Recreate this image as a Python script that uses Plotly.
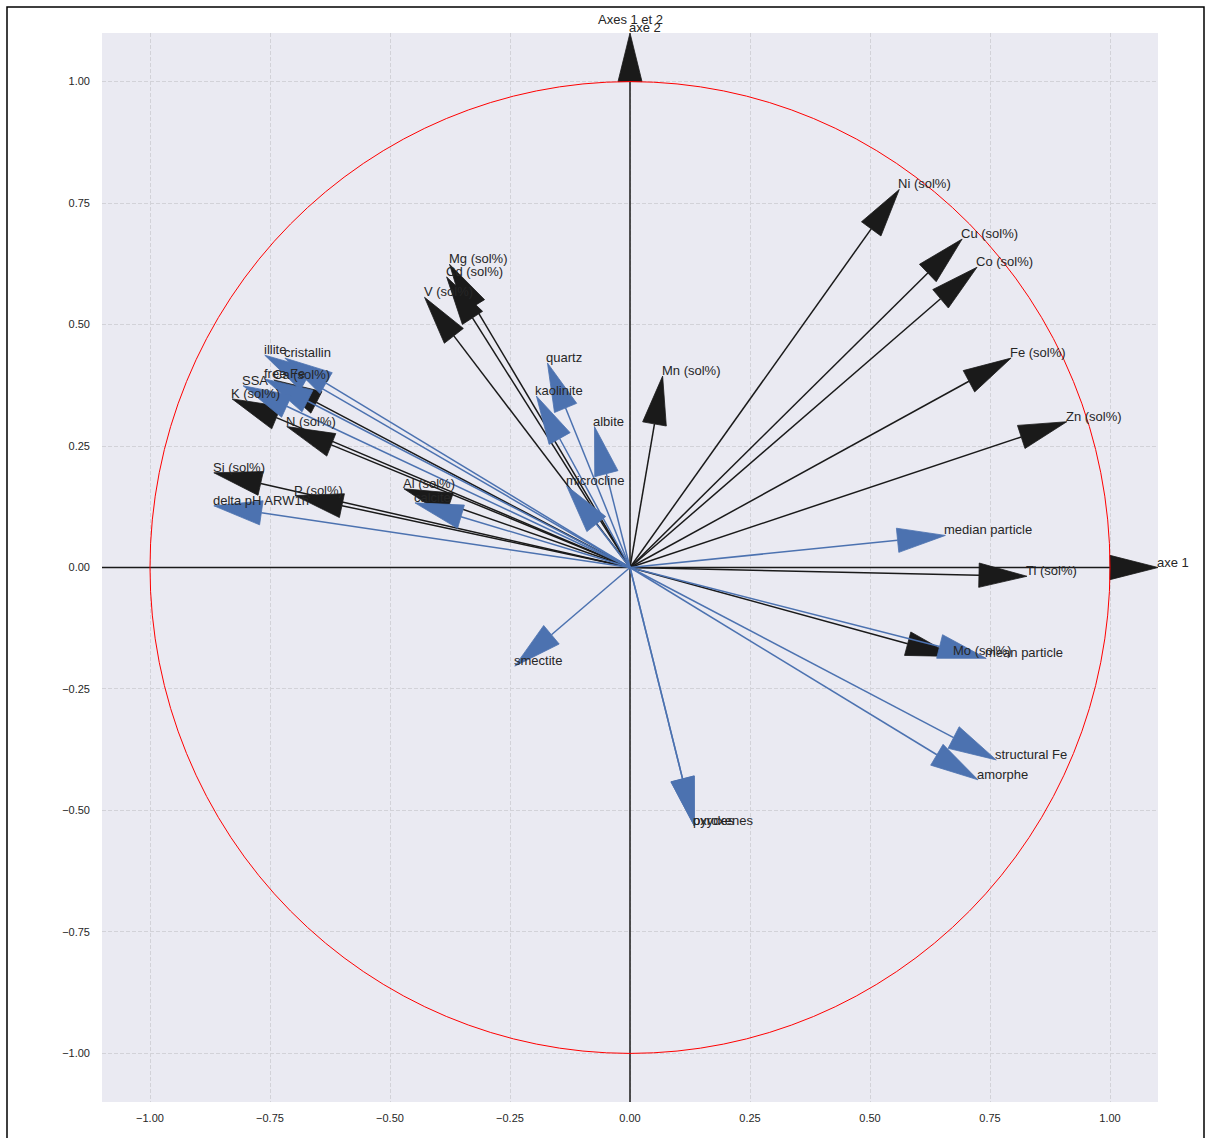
import numpy as np
import plotly.graph_objects as go

# ---- data (correlation-circle loadings, axes 1 and 2) ----
black_labels = ["Ni (sol%)", "Cu (sol%)", "Co (sol%)", "Fe (sol%)", "Zn (sol%)", "Mn (sol%)",
                "Ti (sol%)", "Mo (sol%)", "Mg (sol%)", "Cd (sol%)", "V (sol%)", "Ca (sol%)",
                "K (sol%)", "N (sol%)", "Si (sol%)", "P (sol%)", "Al (sol%)"]
black_x = [0.561, 0.692, 0.723, 0.794, 0.910, 0.068, 0.827, 0.675, -0.376, -0.382, -0.428,
           -0.742, -0.829, -0.715, -0.867, -0.698, -0.471]
black_y = [0.778, 0.676, 0.618, 0.431, 0.300, 0.394, -0.018, -0.183, 0.624, 0.598, 0.556,
           0.386, 0.347, 0.290, 0.195, 0.148, 0.162]

blue_labels = ["illite", "cristallin", "free Fe", "SSA", "delta pH ARW1h", "calcite", "quartz",
               "kaolinite", "albite", "microcline", "median particle", "mean particle",
               "structural Fe", "amorphe", "smectite", "pyroxenes", "oxydes"]
blue_x = [-0.761, -0.719, -0.761, -0.806, -0.867, -0.448, -0.172, -0.195, -0.074, -0.132,
          0.657, 0.742, 0.763, 0.725, -0.240, 0.134, 0.134]
blue_y = [0.437, 0.431, 0.388, 0.374, 0.127, 0.133, 0.421, 0.353, 0.290, 0.168,
          0.066, -0.187, -0.396, -0.437, -0.203, -0.532, -0.532]

axis_labels = ["axe 1", "axe 2"]
axis_start_x = [-1.1, 0.0]
axis_start_y = [0.0, -1.1]
axis_end_x = [1.1, 0.0]
axis_end_y = [0.0, 1.1]

tick_vals = [-1.0, -0.75, -0.5, -0.25, 0.0, 0.25, 0.5, 0.75, 1.0]

BLACK = "#1a1a1a"
BLUE = "#4c72b0"
TEXT = "#262626"
FONT = "Liberation Sans, Arial, sans-serif"
HEAD_L, HEAD_W = 0.1, 0.05

fig = go.Figure()


def add_arrow(x0, y0, x1, y1, color):
    dx, dy = x1 - x0, y1 - y0
    n = np.hypot(dx, dy)
    ux, uy = dx / n, dy / n
    px, py = -uy, ux
    bx, by = x1 - HEAD_L * ux, y1 - HEAD_L * uy
    fig.add_trace(go.Scatter(x=[x0, bx], y=[y0, by], mode="lines",
                             line=dict(color=color, width=1.5), hoverinfo="skip"))
    fig.add_trace(go.Scatter(x=[x1, bx + HEAD_W / 2 * px, bx - HEAD_W / 2 * px, x1],
                             y=[y1, by + HEAD_W / 2 * py, by - HEAD_W / 2 * py, y1],
                             mode="lines", fill="toself", fillcolor=color,
                             line=dict(color=color, width=0.8), hoverinfo="skip"))


for i in range(len(axis_labels)):
    add_arrow(axis_start_x[i], axis_start_y[i], axis_end_x[i], axis_end_y[i], BLACK)
for x, y in zip(black_x, black_y):
    add_arrow(0.0, 0.0, x, y, BLACK)
for x, y in zip(blue_x, blue_y):
    add_arrow(0.0, 0.0, x, y, BLUE)

annots = []
for lab, x, y in list(zip(axis_labels, axis_end_x, axis_end_y)) + \
        list(zip(black_labels, black_x, black_y)) + list(zip(blue_labels, blue_x, blue_y)):
    annots.append(dict(x=x, y=y, xref="x", yref="y", text=lab, showarrow=False,
                       xanchor="left", yanchor="bottom", yshift=-4, xshift=-3,
                       font=dict(family=FONT, size=13, color=TEXT)))
annots.append(dict(x=0.5, y=1.0122, xref="paper", yref="paper", text="Axes 1 et 2",
                   showarrow=False, xanchor="center", yanchor="middle",
                   font=dict(family=FONT, size=13, color=TEXT)))

shapes = [
    dict(type="circle", xref="x", yref="y", x0=-1, y0=-1, x1=1, y1=1,
         line=dict(color="red", width=1), layer="above"),
    dict(type="rect", xref="paper", yref="paper",
         x0=(7 - 102) / 1056, x1=(1204 - 102) / 1056,
         y0=(1102 - 1145) / 1069, y1=(1102 - 7) / 1069,
         line=dict(color="black", width=1.5), layer="below"),
]

axis_common = dict(range=[-1.1, 1.1], tickvals=tick_vals, tickformat=".2f",
                   showgrid=True, gridcolor="#d2d2d8", griddash="4px,2px", gridwidth=1,
                   zeroline=False, showline=False, ticks="",
                   tickfont=dict(family=FONT, size=11, color=TEXT))

fig.update_layout(
    width=1205, height=1138,
    margin=dict(l=102, r=47, t=33, b=36),
    plot_bgcolor="#eaeaf2", paper_bgcolor="white",
    showlegend=False,
    xaxis=dict(**axis_common, ticklabelstandoff=8),
    yaxis=dict(**axis_common, ticklabelstandoff=11),
    annotations=annots, shapes=shapes,
)

fig.write_html("out.html", config={"displayModeBar": False},
               post_script="document.body.style.margin='0';document.body.style.overflow='hidden';")
